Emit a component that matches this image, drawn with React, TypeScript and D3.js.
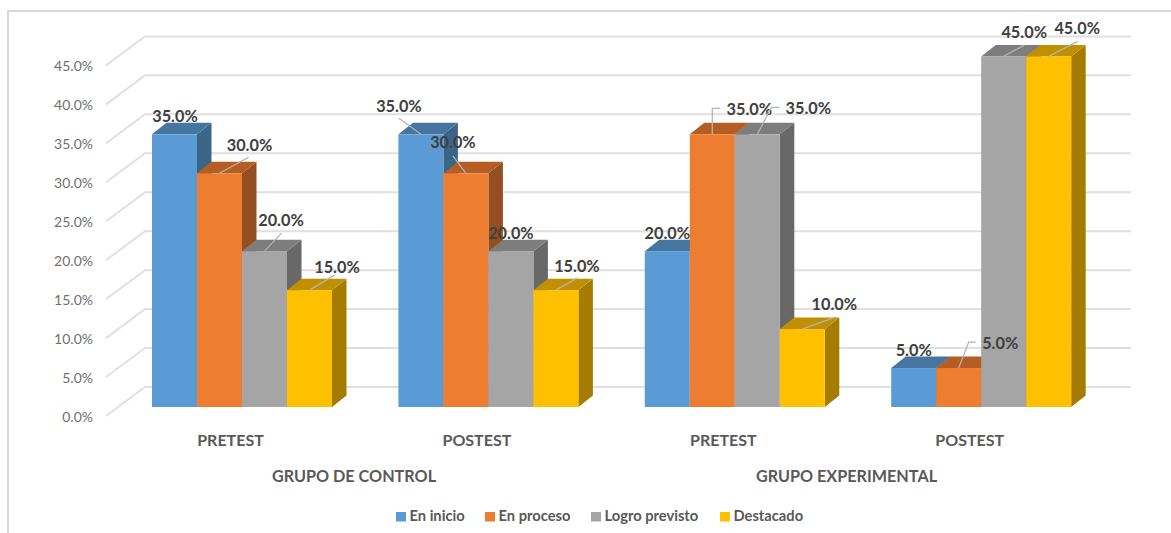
import React from "react";
import * as d3 from "d3";

const groups = ["GRUPO DE CONTROL", "GRUPO EXPERIMENTAL"];
const tests = ["PRETEST", "POSTEST", "PRETEST", "POSTEST"];
const seriesNames = ["En inicio", "En proceso", "Logro previsto", "Destacado"];
const enInicio = [35, 35, 20, 5];
const enProceso = [30, 30, 35, 5];
const logroPrevisto = [20, 20, 35, 45];
const destacado = [15, 15, 10, 45];
const seriesValues = [enInicio, enProceso, logroPrevisto, destacado];
const yTicks = [0, 5, 10, 15, 20, 25, 30, 35, 40, 45];

const frontColors = ["#5b9bd5", "#ed7d31", "#a5a5a5", "#ffc000"];
const topColors = ["#4675a0", "#b55e24", "#7d7d7d", "#c09000"];
const sideColors = ["#3b6587", "#934f1f", "#686868", "#a57c00"];

// label centre and leader polyline, as offsets from each bar's top-centre: [series][category]
type Lab = { dx: number; dy: number; leader?: [number, number][] };
const labelLayout: Lab[][] = [
  [
    { dx: 0.5, dy: -18 },
    { dx: -22, dy: -28, leader: [[0, 0], [-22, -16]] },
    { dx: 0, dy: -18 },
    { dx: 0, dy: -18 },
  ],
  [
    { dx: 30, dy: -28, leader: [[0, 0], [29, -16]] },
    { dx: -13, dy: -31, leader: [[0, 0], [-13, -17.5]] },
    { dx: 37, dy: -25, leader: [[0, 0], [0, -26], [8, -26]] },
    { dx: 41.5, dy: -25, leader: [[0, 0], [10, -26], [17, -26]] },
  ],
  [
    { dx: 16.5, dy: -31, leader: [[0, 0], [17, -18]] },
    { dx: 0, dy: -18 },
    { dx: 51, dy: -26, leader: [[0, 0], [14, -27], [22, -27]] },
    { dx: 20.5, dy: -24, leader: [[0, 0], [21, -11.5]] },
  ],
  [
    { dx: 27.5, dy: -23, leader: [[0, 0], [25, -15]] },
    { dx: 21, dy: -24, leader: [[0, 0], [21, -12]] },
    { dx: 32, dy: -25, leader: [[0, 0], [33, -12]] },
    { dx: 28.5, dy: -28, leader: [[0, 0], [29, -15]] },
  ],
];

const FONT = "Lato, 'Open Sans', sans-serif";

export default function App() {
  const y = d3.scaleLinear().domain([0, 45]).range([407, 56.4]);
  const depthX = 14.5;
  const depthY = 11.5;
  const wallX = 39;
  const wallY = 29;
  const axisDrop = 9;
  const cat = d3.scaleBand<number>().domain([0, 1, 2, 3]).range([152, 152 + 4 * 246.4]);
  const barW = 45;
  const left = (i: number, s: number) => cat(i)! + s * barW;
  const tickY = (v: number) => y(v) + axisDrop;
  const gridRight = 1131;
  const legendX = [396, 485, 591, 720];
  const groupX = [354, 846.5];

  return (
    <svg
      width={1171}
      height={533}
      style={{ position: "absolute", left: 0, top: 0, background: "#fff", fontFamily: FONT }}
    >
      <path d="M8,533 V11 H1171" fill="none" stroke="#d9d9d9" strokeWidth={2} />
      {yTicks.map((t) => (
        <g key={t}>
          <path
            d={`M106,${tickY(t)} L${106 + wallX},${tickY(t) - wallY} H${gridRight}`}
            fill="none"
            stroke="#e0e0e0"
            strokeWidth={2}
          />
          <text x={93} y={tickY(t) + 6} textAnchor="end" fontSize={14} fill="#6f6f6f">
            {t.toFixed(1)}%
          </text>
        </g>
      ))}
      {tests.map((_, i) =>
        seriesValues.map((vals, s) => {
          const x0 = left(i, s);
          const x1 = x0 + barW;
          const yt = y(vals[i]);
          const yb = y(0);
          return (
            <g key={`${i}-${s}`}>
              <path
                d={`M${x1},${yt} L${x1 + depthX},${yt - depthY} V${yb - depthY} L${x1},${yb} Z`}
                fill={sideColors[s]}
              />
              <path
                d={`M${x0},${yt} L${x0 + depthX},${yt - depthY} H${x1 + depthX} L${x1},${yt} Z`}
                fill={topColors[s]}
              />
              <rect x={x0} y={yt} width={barW} height={yb - yt} fill={frontColors[s]} />
            </g>
          );
        })
      )}
      {seriesValues.map((vals, s) =>
        vals.map((v, i) => {
          const cx = left(i, s) + barW / 2;
          const cy = y(v);
          const l = labelLayout[s][i];
          const line = d3.line()(l.leader ? l.leader.map(([a, b]) => [cx + a, cy + b]) : []);
          return (
            <g key={`l${s}-${i}`}>
              {l.leader && <path d={line!} fill="none" stroke="#b3b3b3" strokeWidth={1.3} />}
              <text
                x={cx + l.dx}
                y={cy + l.dy + 6}
                textAnchor="middle"
                fontSize={16.3}
                fontWeight={700}
                fill="#404040"
              >
                {v.toFixed(1)}%
              </text>
            </g>
          );
        })
      )}
      {tests.map((t, i) => (
        <text
          key={i}
          x={cat(i)! + 78.5}
          y={446}
          textAnchor="middle"
          fontSize={16}
          fontWeight={700}
          fill="#595959"
        >
          {t}
        </text>
      ))}
      {groups.map((g, i) => (
        <text
          key={g}
          x={groupX[i]}
          y={482}
          textAnchor="middle"
          fontSize={16.2}
          fontWeight={700}
          fill="#595959"
        >
          {g}
        </text>
      ))}
      {seriesNames.map((n, s) => (
        <g key={n}>
          <rect x={legendX[s]} y={512} width={10} height={9.5} fill={frontColors[s]} />
          <text x={legendX[s] + 13.5} y={521} fontSize={14.7} fontWeight={700} fill="#595959">
            {n}
          </text>
        </g>
      ))}
    </svg>
  );
}
